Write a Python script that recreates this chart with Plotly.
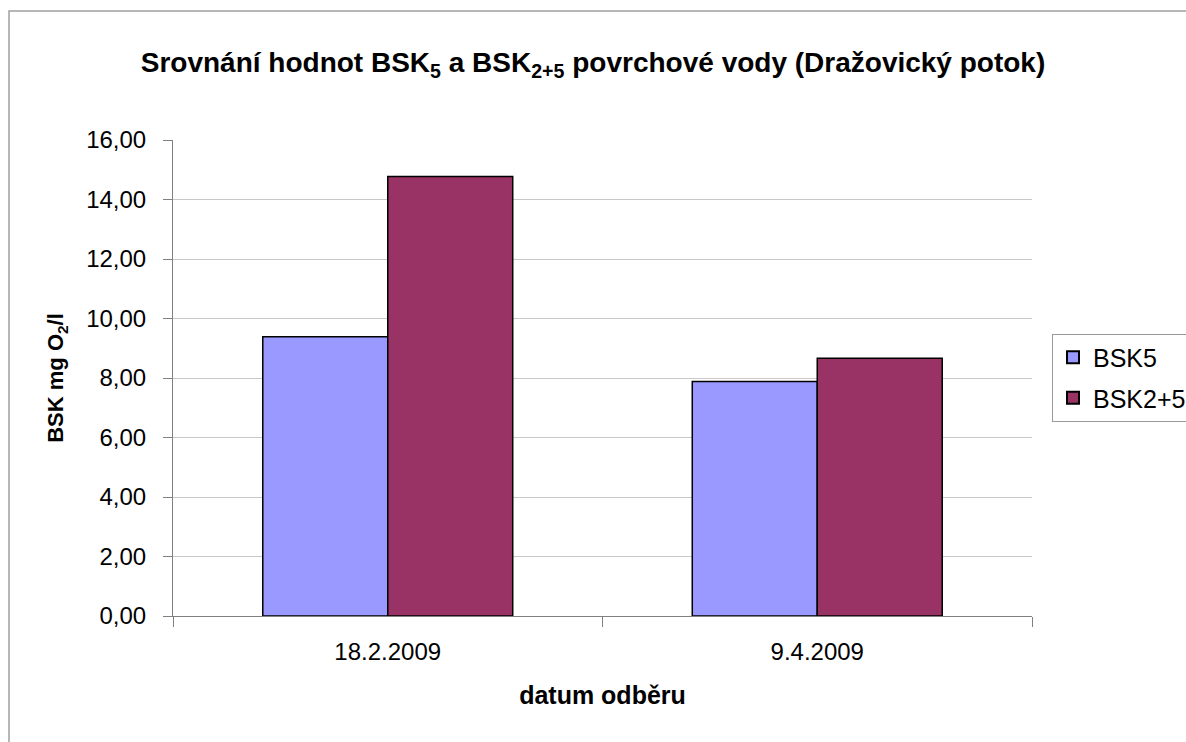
import plotly.graph_objects as go

categories = ["18.2.2009", "9.4.2009"]
bsk5 = [9.39, 7.88]
bsk25 = [14.77, 8.66]
series_names = ["BSK5", "BSK2+5"]
y_ticks = [0, 2, 4, 6, 8, 10, 12, 14, 16]

FONT = "Liberation Sans, Arial, sans-serif"

fig = go.Figure()
fig.add_trace(go.Bar(x=categories, y=bsk5, name=series_names[0], legendgroup="a",
                     marker=dict(color="#9999FF", line=dict(color="#000000", width=1.5))))
fig.add_trace(go.Bar(x=categories, y=bsk25, name=series_names[1], legendgroup="b",
                     marker=dict(color="#993366", line=dict(color="#000000", width=1.5))))

L, R, T, B = 173, 1032, 140, 616
W, H = 1186, 742
pw, ph = R - L, B - T

fig.update_layout(
    width=W, height=H,
    margin=dict(l=L, r=W - R, t=T, b=H - B, autoexpand=False),
    paper_bgcolor="white", plot_bgcolor="white",
    barmode="group", bargap=0.418, bargroupgap=0,
    separators=",.",
    font=dict(family=FONT, color="#000000", size=24),
    title=dict(text="<b>Srovnání hodnot BSK<sub>5</sub> a BSK<sub>2+5</sub> povrchové vody (Dražovický potok)</b>",
               x=0.5, xanchor="center", y=1 - 62 / H, yanchor="middle",
               font=dict(family=FONT, size=28)),
    legend=dict(x=(1052 - L) / pw, xanchor="left", y=(B - 377.5) / ph, yanchor="middle",
                bordercolor="#999999", borderwidth=1, bgcolor="white",
                font=dict(family=FONT, size=25), itemsizing="constant",
                tracegroupgap=5),
    showlegend=True,
)
fig.update_yaxes(range=[0, 16], tickvals=y_ticks, tickformat=".2f",
                 showgrid=True, gridcolor="#c8c8c8", gridwidth=1,
                 showline=True, linecolor="#808080", linewidth=1,
                 ticks="outside", ticklen=9, tickcolor="#808080",
                 ticklabelstandoff=12,
                 tickfont=dict(size=24), zeroline=False,
                 title=dict(text="<b>BSK mg O<sub>2</sub>/l</b>", font=dict(size=22), standoff=16))
fig.update_xaxes(showline=True, linecolor="#808080", linewidth=1,
                 ticks="outside", ticklen=10, tickcolor="#808080",
                 tickson="boundaries", tickfont=dict(size=24),
                 ticklabelstandoff=14,
                 title=dict(text="<b>datum odběru</b>", font=dict(size=25), standoff=22))

# outer chart border
fig.add_shape(type="rect", xref="paper", yref="paper",
              x0=(9 - L) / pw, x1=(1195 - L) / pw, y0=(B - 750) / ph, y1=(B - 11) / ph,
              line=dict(color="#a0a0a0", width=1.5), fillcolor="rgba(0,0,0,0)", layer="below")

fig.write_html("out.html", config={"displayModeBar": False},
               post_script="document.body.style.margin='0';document.body.style.overflow='hidden';")
